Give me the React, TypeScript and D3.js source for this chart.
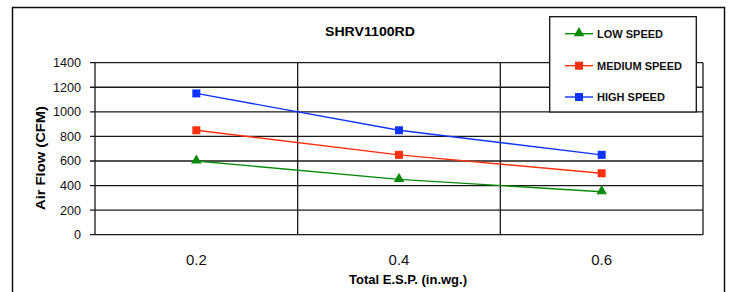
import React, { useEffect, useRef } from 'react';
import * as d3 from 'd3';

const categories = ['0.2', '0.4', '0.6'];
const lowSpeed = [600, 450, 350];
const mediumSpeed = [850, 650, 500];
const highSpeed = [1150, 850, 650];
const yTicks = [0, 200, 400, 600, 800, 1000, 1200, 1400];

const series = [
  { name: 'LOW SPEED', values: lowSpeed, color: '#0a8a0a', marker: 'triangle' },
  { name: 'MEDIUM SPEED', values: mediumSpeed, color: '#ff3010', marker: 'square' },
  { name: 'HIGH SPEED', values: highSpeed, color: '#1034ff', marker: 'square' },
];

export default function App() {
  const svgRef = useRef<SVGSVGElement>(null);
  const W = 729;
  const H = 292;
  const plot = { left: 95, right: 703, top: 62.7, bottom: 234.7 };

  useEffect(() => {
    const svg = d3.select(svgRef.current);
    svg.selectAll('*').remove();
    const font = '"Liberation Sans", Arial, sans-serif';

    // outer frame
    svg.append('rect')
      .attr('x', 12.5).attr('y', 7.5)
      .attr('width', 712).attr('height', 300)
      .attr('fill', '#fff').attr('stroke', '#111').attr('stroke-width', 1.5);

    const x = d3.scaleBand().domain(categories).range([plot.left, plot.right]).padding(0);
    const y = d3.scaleLinear().domain([0, 1400]).range([plot.bottom, plot.top]);

    // horizontal gridlines
    svg.append('g').selectAll('line').data(yTicks).join('line')
      .attr('x1', plot.left - 5).attr('x2', plot.right)
      .attr('y1', d => y(d)).attr('y2', d => y(d))
      .attr('stroke', '#1a1a1a').attr('stroke-width', 1.3);

    // vertical band boundaries
    svg.append('g').selectAll('line').data(categories).join('line')
      .attr('x1', d => x(d)!).attr('x2', d => x(d)!)
      .attr('y1', plot.top).attr('y2', plot.bottom)
      .attr('stroke', '#1a1a1a').attr('stroke-width', 1.3);
    svg.append('line')
      .attr('x1', plot.right).attr('x2', plot.right)
      .attr('y1', plot.top).attr('y2', plot.bottom)
      .attr('stroke', '#1a1a1a').attr('stroke-width', 1.3);

    // y tick labels
    svg.append('g').selectAll('text').data(yTicks).join('text')
      .attr('x', 81).attr('y', d => y(d))
      .attr('dy', '0.35em').attr('text-anchor', 'end')
      .attr('font-family', font).attr('font-size', 12.6).attr('fill', '#111')
      .text(d => d);

    // x tick labels
    svg.append('g').selectAll('text').data(categories).join('text')
      .attr('x', d => x(d)! + x.bandwidth() / 2).attr('y', 265)
      .attr('text-anchor', 'middle')
      .attr('font-family', font).attr('font-size', 15).attr('fill', '#111')
      .text(d => d);

    // titles
    svg.append('text')
      .attr('x', 370).attr('y', 35.5).attr('text-anchor', 'middle')
      .attr('font-family', font).attr('font-size', 12).attr('font-weight', 'bold')
      .attr('textLength', 90).attr('lengthAdjust', 'spacingAndGlyphs')
      .text('SHRV1100RD');
    svg.append('text')
      .attr('x', 408).attr('y', 283.5).attr('text-anchor', 'middle')
      .attr('font-family', font).attr('font-size', 12).attr('font-weight', 'bold')
      .attr('textLength', 118).attr('lengthAdjust', 'spacingAndGlyphs')
      .text('Total E.S.P. (in.wg.)');
    svg.append('text')
      .attr('transform', 'translate(45,158) rotate(-90)')
      .attr('text-anchor', 'middle')
      .attr('font-family', font).attr('font-size', 12).attr('font-weight', 'bold')
      .attr('textLength', 104).attr('lengthAdjust', 'spacingAndGlyphs')
      .text('Air Flow (CFM)');

    const cx = (c: string) => x(c)! + x.bandwidth() / 2;
    const line = d3.line<number>()
      .x((d, i) => cx(categories[i]))
      .y(d => y(d));

    const drawMarker = (g: any, s: any, px: number, py: number) => {
      if (s.marker === 'triangle') {
        g.append('path')
          .attr('d', d3.symbol(d3.symbolTriangle, 48)())
          .attr('transform', `translate(${px},${py - 0.5})`)
          .attr('fill', s.color);
      } else {
        g.append('rect')
          .attr('x', px - 4).attr('y', py - 4)
          .attr('width', 8).attr('height', 8)
          .attr('fill', s.color);
      }
    };

    series.forEach(s => {
      const g = svg.append('g');
      g.append('path')
        .datum(s.values)
        .attr('fill', 'none')
        .attr('stroke', s.color)
        .attr('stroke-width', 1.4)
        .attr('d', line);
      s.values.forEach((v, i) => drawMarker(g, s, cx(categories[i]), y(v)));
    });

    // legend
    const lg = svg.append('g');
    lg.append('rect')
      .attr('x', 551).attr('y', 18).attr('width', 146).attr('height', 95)
      .attr('fill', '#ccc');
    lg.append('rect')
      .attr('x', 549.7).attr('y', 16.7).attr('width', 146.6).attr('height', 95.3)
      .attr('fill', '#fff').attr('stroke', '#111').attr('stroke-width', 1.3);
    const rows = [33.7, 65.7, 97];
    series.forEach((s, i) => {
      lg.append('line')
        .attr('x1', 565).attr('x2', 593)
        .attr('y1', rows[i]).attr('y2', rows[i])
        .attr('stroke', s.color).attr('stroke-width', 1.4);
      drawMarker(lg, s, 579, rows[i]);
      lg.append('text')
        .attr('x', 597).attr('y', rows[i]).attr('dy', '0.35em')
        .attr('font-family', font).attr('font-size', 11).attr('font-weight', 'bold')
        .attr('fill', '#111')
        .text(s.name);
    });
  }, []);

  return (
    <svg
      ref={svgRef}
      width={W}
      height={H}
      style={{ position: 'absolute', left: 0, top: 0, background: '#fff' }}
    />
  );
}
